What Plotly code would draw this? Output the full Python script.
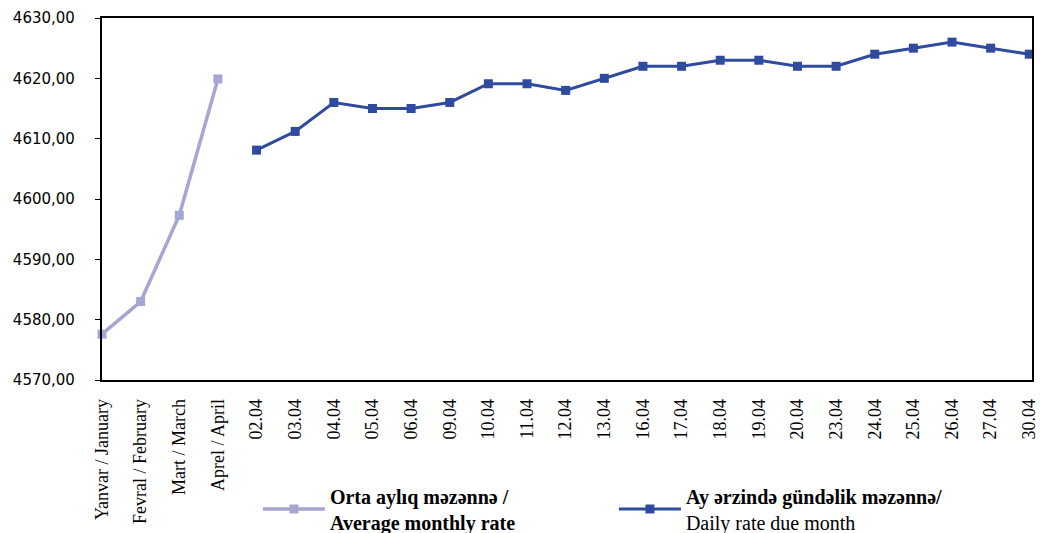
import plotly.graph_objects as go

months = ["Yanvar / January", "Fevral / February", "Mart / March", "Aprel / April"]
monthly_rate = [4577.6, 4583.0, 4597.3, 4619.9]

days = ["02.04", "03.04", "04.04", "05.04", "06.04", "09.04", "10.04", "11.04", "12.04",
        "13.04", "16.04", "17.04", "18.04", "19.04", "20.04", "23.04", "24.04", "25.04",
        "26.04", "27.04", "30.04"]
daily_rate = [4608.1, 4611.2, 4616.0, 4615.0, 4615.0, 4616.0, 4619.1, 4619.1, 4618.0,
              4620.0, 4622.0, 4622.0, 4623.0, 4623.0, 4622.0, 4622.0, 4624.0, 4625.0,
              4626.0, 4625.0, 4624.0]

y_ticks = [4570, 4580, 4590, 4600, 4610, 4620, 4630]

all_cats = months + days

fig = go.Figure()
fig.add_trace(go.Scatter(
    x=months, y=monthly_rate, mode="lines+markers",
    name="<b>Orta aylıq məzənnə /<br>Average monthly rate</b>",
    line=dict(color="#A6A6D4", width=3.5),
    marker=dict(symbol="square", size=9, color="#A6A6D4"),
    cliponaxis=False,
))
fig.add_trace(go.Scatter(
    x=days, y=daily_rate, mode="lines+markers",
    name="<b>Ay ərzində gündəlik məzənnə/</b><br>Daily rate due month",
    line=dict(color="#2F4B9E", width=3),
    marker=dict(symbol="square", size=9, color="#2F4B9E"),
    cliponaxis=False,
))

fig.update_layout(
    width=1040, height=533,
    margin=dict(l=102, r=8, t=18, b=153),
    paper_bgcolor="white", plot_bgcolor="white",
    separators=", ",
    showlegend=True,
    legend=dict(
        orientation="h",
        xref="container", yref="container",
        x=0.248, y=0.106, xanchor="left", yanchor="top",
        font=dict(family="Liberation Serif", size=20, color="black"),
        entrywidth=279, entrywidthmode="pixels",
        itemwidth=62,
        bgcolor="rgba(0,0,0,0)",
    ),
    xaxis=dict(
        type="category",
        categoryorder="array", categoryarray=all_cats,
        range=[0, 24.07],
        tickangle=-90,
        tickfont=dict(family="Liberation Serif", size=18, color="black"),
        showgrid=False, zeroline=False,
        showline=True, linecolor="black", linewidth=1.5, mirror=True,
        ticks="", ticklabelstandoff=10,
        ticklabeloverflow="allow",
        automargin=False,
    ),
    yaxis=dict(
        range=[4570, 4630],
        tickvals=y_ticks,
        tickformat=".2f",
        tickfont=dict(family="DejaVu Sans", size=15, color="black"),
        showgrid=False, zeroline=False,
        showline=True, linecolor="black", linewidth=2.2, mirror=True,
        ticks="outside", ticklen=5, tickcolor="black", tickwidth=1,
        ticklabelstandoff=17,
        automargin=False,
    ),
)

fig.write_html(
    "out.html",
    config={"displayModeBar": False},
    post_script="document.body.style.margin='0';document.body.style.overflow='hidden';",
)
